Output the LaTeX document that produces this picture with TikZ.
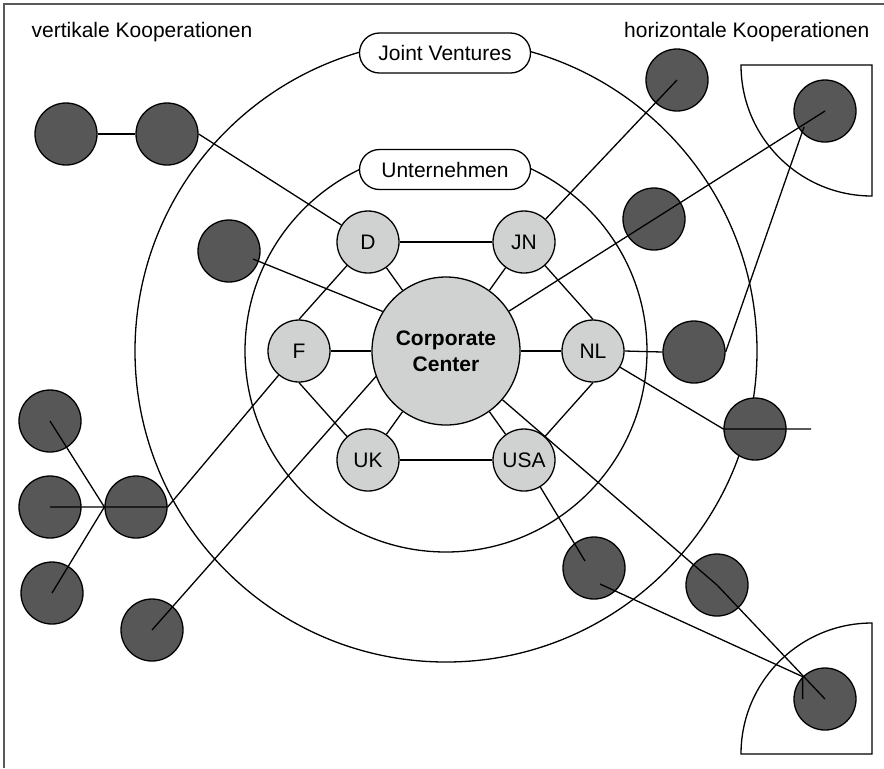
\documentclass[tikz,border=0pt]{standalone}
\usepackage{fontspec}
\setmainfont{Liberation Sans}
\usepackage{tikz}
\definecolor{landgrau}{HTML}{D0D2D1}
\definecolor{partnergrau}{HTML}{575757}
\tikzstyle{land} = [circle, draw, fill=landgrau, minimum size=31pt, inner sep=0pt]
\tikzstyle{partner} = [circle, draw, fill=partnergrau, minimum size=31pt, inner sep=0pt]
\tikzstyle{zentrale} = [circle, draw, fill=landgrau, minimum size=74pt, inner sep=0pt, align=center, font=\fontsize{10.5}{13}\selectfont\bfseries]
\tikzstyle{ring} = [rectangle, draw, fill=white, rounded corners=10pt, minimum width=85.5pt, minimum height=20pt, inner sep=0pt]
\tikzstyle{titel} = [inner sep=0pt]

\begin{document}
\begin{tikzpicture}[x=0.5pt, y=-0.5pt, line width=0.65pt, font=\fontsize{10.5}{13}\selectfont]
    \useasboundingbox (0,0) rectangle (884,768);
    \draw[black!65, line width=1pt] (4,768) -- (4,4) -- (884,4);

    \coordinate (mitte) at (446,351);
    \draw (mitte) circle[radius=100.5pt];
    \draw (mitte) circle[radius=155.5pt];
    \draw[fill=white] (741,65) -- (872,65) -- (872,196) arc[start angle=270, end angle=180, radius=65.5pt] -- cycle;
    \draw[fill=white] (741,754) -- (872,754) -- (872,623) arc[start angle=90, end angle=180, radius=65.5pt] -- cycle;

    \node[ring] (jv) at (445,53) {Joint Ventures};
    \node[ring] (un) at (445,169.5) {Unternehmen};
    \node[titel, anchor=base west] (vert) at (31,37) {vertikale Kooperationen};
    \node[titel, anchor=base east] (hori) at (870,37) {horizontale Kooperationen};

    \node[zentrale] (cc) at (446,351) {Corporate\\Center};
    \node[land] (d) at (368,242) {D};
    \node[land] (jn) at (524,242) {JN};
    \node[land] (nl) at (593,351) {NL};
    \node[land] (usa) at (524,460) {USA};
    \node[land] (uk) at (368,460) {UK};
    \node[land] (f) at (299,351) {F};

    \node[partner] (vk1) at (66,134) {};
    \node[partner] (vk2) at (167,134) {};
    \node[partner] (vk3) at (229,251) {};
    \node[partner] (vl1) at (50,421) {};
    \node[partner] (vl2) at (50,507) {};
    \node[partner] (vl3) at (52,593) {};
    \node[partner] (vhub) at (136,507) {};
    \node[partner] (vk4) at (152,630) {};

    \node[partner] (hk1) at (677,80) {};
    \node[partner] (hk2) at (654,219) {};
    \node[partner] (hk3) at (694,352) {};
    \node[partner] (hk4) at (755,429) {};
    \node[partner] (hk5) at (594,568) {};
    \node[partner] (hk6) at (717,585) {};
    \node[partner] (hr1) at (825,111) {};
    \node[partner] (hr2) at (825,699) {};

    \foreach \n in {d,jn,nl,usa,uk,f}
        \draw (cc) -- (\n);
    \draw (d) -- (jn);
    \draw (jn) -- (nl.north);
    \draw (nl.south) -- (usa);
    \draw (usa) -- (uk);
    \draw (uk) -- (f.south);
    \draw (f.north) -- (d);

    \draw (vk1.east) -- (vk2.west);
    \draw (vk2.east) -- (d);
    \draw ([shift={(24,8)}]vk3.center) -- (cc.148);
    \draw (f) -- (vhub.east) -- (vl2.center);
    \draw (vl1.center) -- (vhub.west) -- (vl3.center);
    \draw (vk4.center) -- (cc.200);

    \draw (jn) -- (hk1.center);
    \draw (cc) -- (hr1.center);
    \draw (nl.east) -- (hk3.west);
    \draw (hk3.east) -- ([shift={(-21,16)}]hr1.center);
    \draw (nl) -- (hk4.west) -- ([shift={(56,0)}]hk4.center);
    \draw (usa) -- ([shift={(-9,-7)}]hk5.center);
    \draw ([shift={(6,16)}]hk5.center) -- (hr2.135) -- (hr2.135 |- hr2.center);
    \draw (cc) -- (hk6.center) -- (hr2.center);
\end{tikzpicture}
\end{document}
